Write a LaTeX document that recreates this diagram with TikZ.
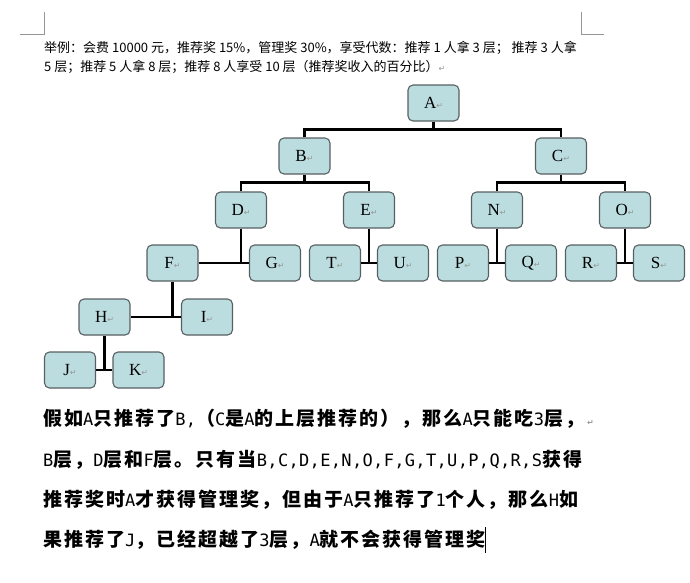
\documentclass[tikz,border=0pt]{standalone}
\usepackage{fontspec}
\setmainfont{Liberation Serif}
\newfontfamily\cjk{Noto Sans CJK SC}
\newfontfamily\cjkpara[LetterSpace=10.5]{Noto Sans CJK SC}
\newfontfamily\halffont[LetterSpace=2]{DejaVu Sans Mono}
\newfontfamily\retfont{DejaVu Sans}
\usetikzlibrary{positioning}
\definecolor{boxfill}{RGB}{188,221,224}
\definecolor{boxline}{RGB}{88,96,98}
\definecolor{markgray}{RGB}{150,150,150}
\newcommand{\retmark}{{\retfont\fontsize{8}{8}\selectfont\color{markgray}↵}}
\newcommand{\hw}[1]{{\halffont\mdseries\fontsize{17}{17}\selectfont #1}}

\begin{document}
\begin{tikzpicture}[x=1pt,y=-1pt,
  member/.style={draw=boxline,fill=boxfill,line width=1.1pt,rounded corners=5pt,
    minimum width=51pt,minimum height=36pt,inner sep=0pt,font=\fontsize{17}{17}\selectfont},
  link/.style={line width=2.8pt},
  cropline/.style={draw=markgray,line width=0.8pt},
  note/.style={anchor=west,inner sep=0pt,font=\cjk\fontsize{13}{13}\selectfont},
  para/.style={anchor=west,inner sep=0pt,font=\cjkpara\bfseries\fontsize{19}{19}\selectfont}]
\useasboundingbox (0,0) rectangle (690,582);
% page corners
\draw[cropline] (20,34) -- (44,34) -- (44,12);
\draw[cropline] (581,12) -- (581,34) -- (604,34);
% heading
\node[note] (note1) at (44,48) {举例：会费 10000 元，推荐奖 15\%，管理奖 30\%，享受代数：推荐 1 人拿 3 层； 推荐 3 人拿};
\node[note] (note2) at (44,67) {5 层；推荐 5 人拿 8 层；推荐 8 人享受 10 层（推荐奖收入的百分比）\retmark};
% tree
\node[member] (A) at (433.5,103) {A\retmark};
\node[member] (B) at (304.5,156) {B\retmark};
\node[member] (C) at (561,156) {C\retmark};
\node[member] (D) at (241,210) {D\retmark};
\node[member] (E) at (369,210) {E\retmark};
\node[member] (N) at (497,210) {N\retmark};
\node[member] (O) at (625,210) {O\retmark};
\node[member] (F) at (172.5,263) {F\retmark};
\node[member] (G) at (275,263) {G\retmark};
\node[member] (T) at (335,263) {T\retmark};
\node[member] (U) at (403,263) {U\retmark};
\node[member] (P) at (463,263) {P\retmark};
\node[member] (Q) at (531,263) {Q\retmark};
\node[member] (R) at (591,263) {R\retmark};
\node[member] (S) at (659,263) {S\retmark};
\node[member] (H) at (104.5,317) {H\retmark};
\node[member] (I) at (207,317) {I\retmark};
\node[member] (J) at (70,370) {J\retmark};
\node[member] (K) at (138.5,370) {K\retmark};
\coordinate (ab) at (433.5,129.5);
\coordinate (bd) at (304.5,182.5);
\coordinate (cn) at (561,182.5);
\draw[link] (A.south) -- (ab);
\draw[link] (B.north) |- (ab) -| (C.north);
\draw[link] (B.south) -- (bd);
\draw[link] (D.north) |- (bd) -| (E.north);
\draw[link] (C.south) -- (cn);
\draw[link] (N.north) |- (cn) -| (O.north);
\draw[link] (D.south) -- (D.south |- G.west);
\draw[link] (F.east) -- (G.west);
\draw[link] (E.south) -- (E.south |- U.west);
\draw[link] (T.east) -- (U.west);
\draw[link] (N.south) -- (N.south |- Q.west);
\draw[link] (P.east) -- (Q.west);
\draw[link] (O.south) -- (O.south |- S.west);
\draw[link] (R.east) -- (S.west);
\draw[link] (F.south) -- (F.south |- I.west);
\draw[link] (H.east) -- (I.west);
\draw[link] (H.south) -- (H.south |- K.west);
\draw[link] (J.east) -- (K.west);
% explanation
\node[para] (line1) at (43,419) {假如\hw{A}只推荐了\hw{B,}（\hw{C}是\hw{A}的上层推荐的），那么\hw{A}只能吃\hw{3}层，\hspace{3pt}\retmark};
\node[para] (line2) at (43,460) {\hw{B}层，\hw{D}层和\hw{F}层。只有当\hw{B,C,D,E,N,O,F,G,T,U,P,Q,R,S}获得};
\node[para] (line3) at (43,500) {推荐奖时\hw{A}才获得管理奖，但由于\hw{A}只推荐了\hw{1}个人，那么\hw{H}如};
\node[para] (line4) at (43,540) {果推荐了\hw{J}，已经超越了\hw{3}层，\hw{A}就不会获得管理奖};
\draw[line width=1pt] ([xshift=-1pt,yshift=-13pt]line4.east) -- ([xshift=-1pt,yshift=13pt]line4.east);
\end{tikzpicture}
\end{document}
